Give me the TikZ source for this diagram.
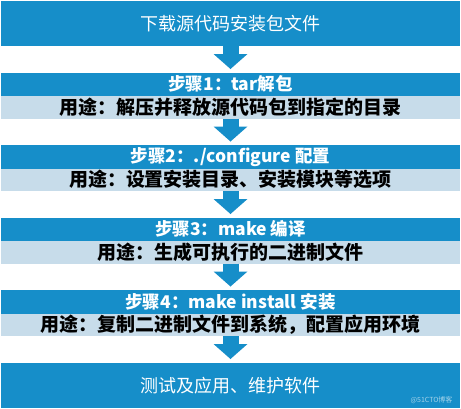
\documentclass[tikz,border=0pt]{standalone}
\usepackage{fontspec}
\usepackage{tikz}
\usetikzlibrary{positioning,arrows.meta}
\newfontfamily\cjk{Noto Sans CJK SC}
\definecolor{stepblue}{RGB}{22,142,201}
\definecolor{uselight}{RGB}{199,220,234}

\begin{document}
\begin{tikzpicture}[x=1pt,y=1pt,
  endbox/.style={rectangle,fill=stepblue,text=white,minimum width=459pt,minimum height=45.5pt,
    inner sep=0pt,outer sep=0pt,font=\cjk\fontsize{18}{18}\selectfont},
  headbox/.style={rectangle,fill=stepblue,text=white,minimum width=459pt,minimum height=23.5pt,
    inner sep=0pt,outer sep=0pt,font=\cjk\bfseries\fontsize{17.5}{18}\selectfont},
  usebox/.style={rectangle,fill=uselight,text=black,minimum width=459pt,minimum height=22.5pt,
    inner sep=0pt,outer sep=0pt,font=\cjk\bfseries\fontsize{19}{19}\selectfont},
  flow/.style={stepblue,line width=16pt,shorten >=3.5pt,
    -{Triangle[width=34pt,length=15pt,line width=0pt]}}]
\useasboundingbox (0,0) rectangle (461,-408);

% Start box
\node[endbox,minimum height=45pt] (download) at (230.5,-23.5) {下载源代码安装包文件};

% Step 1
\node[headbox,below=26.5pt of download] (s1head) {步骤1：tar解包};
\node[usebox,below=0pt of s1head] (s1use) {用途：解压并释放源代码包到指定的目录};

% Step 2
\node[headbox,below=26.5pt of s1use] (s2head) {步骤2：./configure 配置};
\node[usebox,below=0pt of s2head] (s2use) {用途：设置安装目录、安装模块等选项};

% Step 3
\node[headbox,below=26.5pt of s2use] (s3head) {步骤3：make 编译};
\node[usebox,below=0pt of s3head] (s3use) {用途：生成可执行的二进制文件};

% Step 4
\node[headbox,below=26.5pt of s3use] (s4head) {步骤4：make install 安装};
\node[usebox,below=0pt of s4head] (s4use) {用途：复制二进制文件到系统，配置应用环境};

% End box
\node[endbox,below=26.5pt of s4use] (maintain) {测试及应用、维护软件};
\node[font=\cjk\fontsize{7}{7}\selectfont,text=white!60!stepblue,anchor=east] (mark) at (456,-400) {@51CTO博客};

% Arrows
\draw[flow] (download) -- (s1head);
\foreach \from/\to in {s1use/s2head,s2use/s3head,s3use/s4head,s4use/maintain}
  \draw[flow] (\from) -- (\to);

\end{tikzpicture}
\end{document}
